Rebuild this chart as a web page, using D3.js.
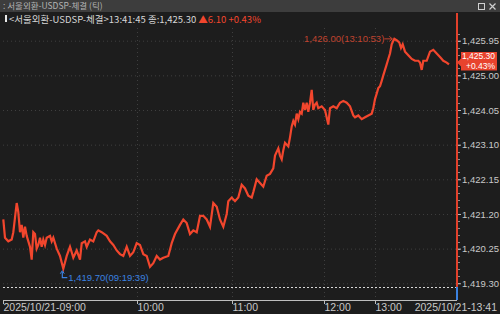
<!DOCTYPE html>
<html>
<head>
<meta charset="utf-8">
<script src="https://cdn.jsdelivr.net/npm/d3@7"></script>
<style>
  html, body { margin: 0; padding: 0; background: #1d1d1d; overflow: hidden; }
  svg { display: block; }
</style>
</head>
<body>
<svg></svg>
<script>
// tick chart: minutes after 09:00 and traded price
const tickMin = [
  0, 0.76, 2.25, 3.78, 4.5, 5.26, 6.03, 6.75, 7.51, 8.28, 9.0, 9.76, 10.53, 12.01, 12.77, 13.49,
  14.26, 15.02, 15.74, 16.51, 17.27, 17.99, 18.76, 19.52, 21.0, 21.77, 22.49, 24.02, 25.5, 26.99,
  28.52, 30.0, 30.77, 31.49, 33.02, 34.5, 35.27, 36.75, 37.51, 39.0, 40.48, 42.01, 42.73, 44.26,
  46.51, 48.0, 49.48, 51.01, 52.49, 53.98, 55.51, 56.99, 58.47, 60.0, 62.08, 64.17, 66.32, 68.4,
  70.48, 72.63, 74.71, 76.8, 79.96, 82.11, 84.19, 87.35, 89.43, 91.58, 93.66, 95.75, 97.9, 99.98,
  102.07, 104.21, 106.3, 108.38, 110.53, 112.61, 114.7, 116.84, 117.85, 120.0, 122.15, 124.29,
  126.5, 128.65, 130.79, 133.0, 134.04, 136.25, 138.4, 140.54, 142.75, 144.9, 147.04, 148.15,
  150.3, 151.4, 152.51, 153.55, 154.65, 156.8, 157.9, 159.01, 160.05, 161.15, 162.26, 163.3,
  164.4, 165.51, 166.55, 167.65, 168.76, 169.79, 170.9, 172.0, 173.04, 174.15, 175.25, 176.29,
  178.5, 181.18, 185.06, 187.06, 190.94, 194.94, 198.82, 202.71, 206.71, 210.59, 214.47, 216.47,
  220.35, 224.35, 228.24, 232.12, 236.12, 238.0, 240.0, 240.96, 241.86, 242.82, 243.78, 244.68,
  245.64, 246.6, 247.5, 248.46, 249.42, 250.32, 250.9, 252.58, 253.71, 254.67, 255.63, 256.93,
  258.79, 260.71, 262.57, 264.43, 265.39, 266.35, 267.25, 269.17, 271.03, 272.89, 274.81, 276.67,
  278.53, 280.45, 281.75
];
const prices = [
  1421.05, 1420.55, 1420.45, 1420.50, 1420.70, 1421.10, 1421.50, 1421.25, 1420.70, 1420.90, 1420.55, 1420.85, 1420.60, 1420.30, 1419.95, 1420.70,
  1420.65, 1420.25, 1420.35, 1420.55, 1420.30, 1420.50, 1420.35, 1420.55, 1420.60, 1420.45, 1420.55, 1420.25, 1420.05, 1419.70,
  1420.05, 1420.30, 1420.15, 1420.00, 1420.20, 1419.95, 1420.40, 1420.45, 1420.30, 1420.50, 1420.45, 1420.70, 1420.75, 1420.70,
  1420.60, 1420.45, 1420.35, 1420.20, 1420.10, 1420.05, 1420.30, 1420.05, 1420.15, 1420.40, 1420.35, 1420.10, 1420.05, 1419.75,
  1419.85, 1420.05, 1419.95, 1420.00, 1420.05, 1420.40, 1420.65, 1420.90, 1421.05, 1420.95, 1420.65, 1420.75, 1420.70, 1421.15,
  1421.15, 1421.05, 1420.85, 1421.50, 1421.40, 1421.05, 1420.85, 1421.20, 1421.55, 1421.65, 1421.55, 1421.65,
  1422.00, 1421.90, 1421.70, 1421.65, 1421.80, 1422.15, 1422.05, 1421.95, 1422.25, 1422.30, 1422.45, 1422.80,
  1423.00, 1422.80, 1422.70, 1422.95, 1423.15, 1423.05, 1423.30, 1423.60, 1423.75, 1423.65, 1423.95, 1423.80,
  1424.00, 1423.95, 1424.25, 1424.05, 1424.25, 1424.00, 1424.25, 1424.60, 1424.05, 1424.20, 1424.25, 1424.10,
  1424.15, 1424.05, 1423.65, 1424.10, 1424.15, 1424.10, 1424.25, 1424.30, 1424.25, 1424.15, 1423.90, 1423.85,
  1423.90, 1423.80, 1423.85, 1423.90, 1423.95, 1424.10, 1424.35, 1424.50, 1424.65, 1424.70, 1424.85, 1425.00,
  1425.15, 1425.30, 1425.45, 1425.60, 1425.85, 1425.95, 1426.00, 1425.95, 1425.90, 1425.75, 1425.85, 1425.65,
  1425.55, 1425.45, 1425.40, 1425.40, 1425.35, 1425.15, 1425.40, 1425.40, 1425.65, 1425.70, 1425.60, 1425.50,
  1425.40, 1425.35, 1425.30
];

// axis labels
const hourMin = [0, 60, 120, 180, 240, 281.75];
const hourLabels = ["2025/10/21-09:00", "10:00", "11:00", "12:00", "13:00", "2025/10/21-13:41"];
const priceTicks = [1419.30, 1420.25, 1421.20, 1422.15, 1423.10, 1424.05, 1425.00, 1425.95];
const prevClose = 1419.20;
const lastPrice = 1425.30;
const change = 6.10;
const changePct = 0.43;
const minLabelTime = "09:19:39";
const maxLabelTime = "13:10:53";

/*
 * layout
 */
const W = 500, H = 314;
const PLOT_LEFT = 3, PLOT_RIGHT = 457, PLOT_TOP = 28, PLOT_BOTTOM = 300;
// tick chart: hours do not get equal width, so the x scale is piecewise
const HOUR_X = [3.3, 136.7, 231.7, 324, 375, 449];
const NUM_FONT = "'Liberation Sans', Arial, sans-serif";
const KR_FONT = "'Noto Sans CJK KR', 'Noto Sans', sans-serif";
const UP_RED = "#f2462d";
const DOWN_BLUE = "#3b82e0";
const LABEL = "#c9c9c9";

const svg = d3.select("svg").attr("width", W).attr("height", H);
svg.selectAll("*").remove();

svg.append("rect").attr("width", W).attr("height", H).attr("fill", "#1d1d1d");

const x = d3.scaleLinear().domain(hourMin).range(HOUR_X);
const y = d3.scaleLinear().domain([1418.842, 1426.298]).range([PLOT_BOTTOM, PLOT_TOP]);

const fmt = d3.format(",.2f");

// title bar
svg.append("rect").attr("x", 0).attr("y", 0).attr("width", W).attr("height", 12)
  .attr("fill", "#3d3d3d");
svg.append("text").attr("x", 3).attr("y", 9)
  .attr("font-family", KR_FONT).attr("font-size", 8.5).attr("fill", "#b4b4b4")
  .text(": 서울외환-USDSP-체결 (틱)");
// window buttons
svg.append("rect").attr("x", 478.5).attr("y", 3.5).attr("width", 6).attr("height", 6)
  .attr("fill", "none").attr("stroke", "#cfcfcf").attr("stroke-width", 1);
svg.append("path").attr("d", "M489.5,3.5 L495.5,9.5 M495.5,3.5 L489.5,9.5")
  .attr("stroke", "#cfcfcf").attr("stroke-width", 1.2);

// header line
svg.append("rect").attr("x", 5).attr("y", 15).attr("width", 2).attr("height", 7).attr("fill", "#e8e8e8");
const header = svg.append("text").attr("x", 9).attr("y", 22.5)
  .attr("font-family", KR_FONT).attr("font-size", 9.5);
header.append("tspan").attr("fill", "#d6d6d6")
  .text(`<서울외환-USDSP-체결>13:41:45 종:${fmt(lastPrice)} `);
header.append("tspan").attr("fill", UP_RED).text(`▲${change.toFixed(2)} +${changePct.toFixed(2)}%`);

// grid
const grid = svg.append("g").attr("stroke", "#3f3f3f").attr("stroke-dasharray", "1,3");
grid.selectAll("line.h").data(priceTicks).join("line")
  .attr("x1", PLOT_LEFT).attr("x2", PLOT_RIGHT)
  .attr("y1", d => y(d) + 0.5).attr("y2", d => y(d) + 0.5);
grid.selectAll("line.v").data(hourMin.slice(1, 5)).join("line")
  .attr("x1", d => Math.round(x(d)) + 0.5).attr("x2", d => Math.round(x(d)) + 0.5)
  .attr("y1", PLOT_TOP).attr("y2", PLOT_BOTTOM);

// previous close reference
svg.append("line")
  .attr("x1", PLOT_LEFT).attr("x2", PLOT_RIGHT)
  .attr("y1", Math.round(y(prevClose)) + 0.5).attr("y2", Math.round(y(prevClose)) + 0.5)
  .attr("stroke", "#d8d8d8").attr("stroke-dasharray", "2,2");

// price line
const line = d3.line().x((d, i) => x(tickMin[i])).y(d => y(d));
svg.append("path").datum(prices)
  .attr("d", line)
  .attr("fill", "none")
  .attr("stroke", UP_RED)
  .attr("stroke-width", 2.2)
  .attr("stroke-linejoin", "miter");

// min / max annotations
const iMin = d3.minIndex(prices), iMax = d3.maxIndex(prices);
const mnx = x(tickMin[iMin]), mny = y(prices[iMin]);
svg.append("path")
  .attr("d", `M${mnx - 1},${mny + 3} V${mny + 9} H${mnx + 4}`)
  .attr("fill", "none").attr("stroke", DOWN_BLUE).attr("stroke-width", 1.2);
svg.append("path")
  .attr("d", `M${mnx - 3},${mny + 5} L${mnx - 1},${mny + 2} L${mnx + 1},${mny + 5}`)
  .attr("fill", "none").attr("stroke", DOWN_BLUE).attr("stroke-width", 1);
svg.append("text").attr("x", mnx + 5).attr("y", mny + 12)
  .attr("font-family", NUM_FONT).attr("font-size", 9.5).attr("fill", DOWN_BLUE)
  .text(`${fmt(prices[iMin])}(${minLabelTime})`);

const mxx = x(tickMin[iMax]), mxy = y(prices[iMax]);
svg.append("text").attr("x", mxx - 10).attr("y", mxy + 3)
  .attr("text-anchor", "end")
  .attr("font-family", NUM_FONT).attr("font-size", 9.5).attr("fill", "#c0432f")
  .text(`${fmt(prices[iMax])}(${maxLabelTime})`);
svg.append("path")
  .attr("d", `M${mxx - 10},${mxy} H${mxx - 2} M${mxx - 5},${mxy - 2.5} L${mxx - 2},${mxy} L${mxx - 5},${mxy + 2.5}`)
  .attr("fill", "none").attr("stroke", "#c0432f").attr("stroke-width", 1);

// right price axis
svg.append("rect").attr("x", PLOT_RIGHT - 1).attr("y", 13)
  .attr("width", 2).attr("height", y(prevClose) - 13).attr("fill", "#e2402b");
svg.append("rect").attr("x", PLOT_RIGHT - 1).attr("y", y(prevClose))
  .attr("width", 2).attr("height", PLOT_BOTTOM - y(prevClose)).attr("fill", DOWN_BLUE);

const minor = d3.range(0, 40).map(i => priceTicks[0] + i * 0.19).filter(v => v < 1426.29);
svg.append("g").selectAll("line").data(minor).join("line")
  .attr("x1", PLOT_RIGHT + 1).attr("x2", PLOT_RIGHT + 3)
  .attr("y1", d => Math.round(y(d)) + 0.5).attr("y2", d => Math.round(y(d)) + 0.5)
  .attr("stroke", "#8a8a8a");

const yAxis = svg.append("g")
  .attr("transform", `translate(${PLOT_RIGHT + 1},0)`)
  .call(d3.axisRight(y).tickValues(priceTicks).tickSize(3).tickPadding(1).tickFormat(fmt));
yAxis.select(".domain").remove();
yAxis.selectAll(".tick line").attr("stroke", "#bdbdbd");
yAxis.selectAll(".tick text")
  .attr("fill", LABEL).attr("font-family", NUM_FONT).attr("font-size", 9.5);

// last price badge
const ly = y(lastPrice) - 2;
svg.append("path")
  .attr("d", `M${PLOT_RIGHT},${ly} L${PLOT_RIGHT + 4},${ly - 4} V${ly - 10.5} H497 V${ly + 8} H${PLOT_RIGHT + 4} V${ly + 4} Z`)
  .attr("fill", "#e8432d");
svg.append("text").attr("x", 495).attr("y", ly - 3)
  .attr("text-anchor", "end")
  .attr("font-family", NUM_FONT).attr("font-size", 8.5).attr("fill", "#fff")
  .text(fmt(lastPrice));
svg.append("text").attr("x", 495).attr("y", ly + 6.3)
  .attr("text-anchor", "end")
  .attr("font-family", NUM_FONT).attr("font-size", 8.5).attr("fill", "#fff")
  .text(`+${changePct.toFixed(2)}%`);

// time axis
svg.append("line").attr("x1", PLOT_LEFT).attr("x2", PLOT_RIGHT)
  .attr("y1", PLOT_BOTTOM + 0.5).attr("y2", PLOT_BOTTOM + 0.5)
  .attr("stroke", "#bdbdbd");
const xt = svg.append("g");
hourMin.slice(0, 5).forEach((m, i) => {
  const px = Math.round(x(m)) + 0.5;
  xt.append("line").attr("x1", px).attr("x2", px)
    .attr("y1", PLOT_BOTTOM).attr("y2", PLOT_BOTTOM + 4).attr("stroke", "#bdbdbd");
  xt.append("text").attr("x", px).attr("y", 311)
    .attr("font-family", NUM_FONT).attr("font-size", 10.5).attr("fill", LABEL)
    .text(hourLabels[i]);
});
xt.append("text").attr("x", 497).attr("y", 311).attr("text-anchor", "end")
  .attr("font-family", NUM_FONT).attr("font-size", 10.5).attr("fill", LABEL)
  .text(hourLabels[5]);
</script>
</body>
</html>
